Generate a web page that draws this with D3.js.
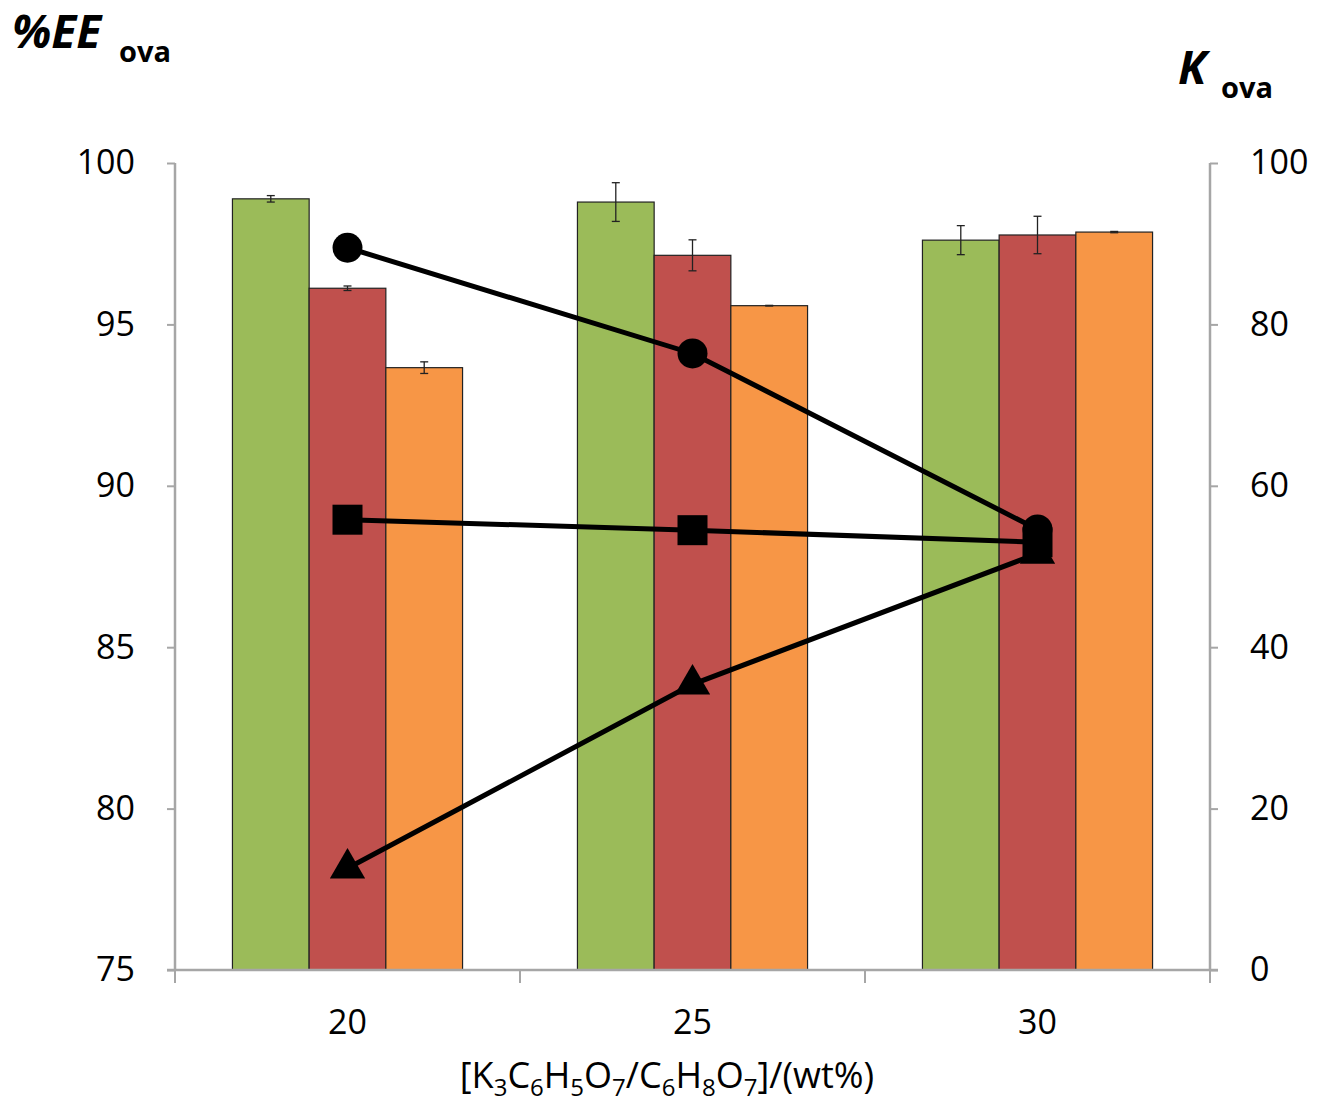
<!DOCTYPE html>
<html><head><meta charset="utf-8">
<script src="https://cdn.jsdelivr.net/npm/d3@7"></script>
<style>body{margin:0;background:#fff}svg{font-family:"Open Sans",Lato,sans-serif}</style>
</head><body>
<script>
const categories = ["20","25","30"];
const barSeries = ["s1","s2","s3"];
const barColors = ["#9bbb59","#c0504d","#f79646"];
const barValues = [
  [98.89, 98.79, 97.61],
  [96.12, 97.14, 97.77],
  [93.66, 95.58, 97.86]
];
const barErrors = [
  [0.10, 0.60, 0.45],
  [0.07, 0.48, 0.58],
  [0.18, 0.01, 0.02]
];
const circleK = [89.5, 76.4, 54.6];
const squareK = [55.8, 54.5, 53.0];
const triangleK = [12.6, 35.4, 51.6];
const leftTicks = [75,80,85,90,95,100];
const rightTicks = [0,20,40,60,80,100];

const W=1318,H=1103;
const svg=d3.select("body").append("svg").attr("width",W).attr("height",H);
const x0=175,x1=1210,yTop=163,yBot=970;
const x=d3.scaleBand().domain(categories).range([x0,x1]).paddingInner(0).paddingOuter(0);
const yL=d3.scaleLinear().domain([75,100]).range([yBot,yTop]);
const yR=d3.scaleLinear().domain([0,100]).range([yBot,yTop]);
const groupW=x.bandwidth()*0.667;
const xs=d3.scaleBand().domain(barSeries).range([0,groupW]);

// bars
barSeries.forEach((s,si)=>{
  const g=svg.append("g");
  categories.forEach((c,ci)=>{
    const bx=x(c)+(x.bandwidth()-groupW)/2+xs(s);
    const v=barValues[si][ci];
    g.append("rect").attr("x",bx).attr("y",yL(v)).attr("width",xs.bandwidth()).attr("height",yBot-yL(v))
      .attr("fill",barColors[si]).attr("stroke","#222").attr("stroke-width",1.2);
    const cx=bx+xs.bandwidth()/2, e=barErrors[si][ci];
    const eb=g.append("g").attr("stroke","#222").attr("stroke-width",1.3);
    eb.append("line").attr("x1",cx).attr("x2",cx).attr("y1",yL(v+e)).attr("y2",yL(v-e));
    eb.append("line").attr("x1",cx-4).attr("x2",cx+4).attr("y1",yL(v+e)).attr("y2",yL(v+e));
    eb.append("line").attr("x1",cx-4).attr("x2",cx+4).attr("y1",yL(v-e)).attr("y2",yL(v-e));
  });
});

// axes
const axisColor="#a6a6a6";
const axL=svg.append("g").attr("transform",`translate(${x0},0)`).call(d3.axisLeft(yL).tickValues(leftTicks).tickSize(8).tickPadding(32));
const axR=svg.append("g").attr("transform",`translate(${x1},0)`).call(d3.axisRight(yR).tickValues(rightTicks).tickSize(8).tickPadding(32));
const axB=svg.append("g").attr("transform",`translate(0,${yBot})`).call(d3.axisBottom(x).tickSize(0).tickPadding(38));
// bottom boundary ticks
const bounds=[x0, ...categories.map(c=>x(c)+x.bandwidth())];
axB.selectAll(".bt").data(bounds).enter().append("line").attr("x1",d=>d).attr("x2",d=>d).attr("y1",0).attr("y2",13).attr("stroke",axisColor).attr("stroke-width",2);
[axL,axR,axB].forEach(a=>{
  a.select(".domain").attr("stroke",axisColor).attr("stroke-width",2.5);
  a.selectAll(".tick line").attr("stroke",axisColor).attr("stroke-width",2);
  a.selectAll("text").attr("font-size",34).attr("fill","#000").attr("font-family","'Open Sans',sans-serif");
});
axL.selectAll(".tick line").attr("x1",-8).attr("x2",0);
axR.selectAll(".tick line").attr("x1",0).attr("x2",8);
axL.selectAll("text").attr("x",-40);
axR.selectAll("text").attr("x",40);
axB.selectAll("text").attr("y",40);
axB.select(".domain").attr("d",`M${x0-8},0H${x1+8}`);
axL.select(".domain").attr("d",`M0,${yTop}V${yBot}`);
axR.select(".domain").attr("d",`M0,${yTop}V${yBot}`);

// lines
const line=d3.line().x((d,i)=>x(categories[i])+x.bandwidth()/2).y(d=>yR(d));
[circleK,squareK,triangleK].forEach(arr=>{
  svg.append("path").datum(arr).attr("d",line).attr("fill","none").attr("stroke","#000").attr("stroke-width",5);
});
const cxs=i=>x(categories[i])+x.bandwidth()/2;
svg.append("g").selectAll("circle").data(circleK).enter().append("circle").attr("cx",(d,i)=>cxs(i)).attr("cy",d=>yR(d)).attr("r",15).attr("fill","#000");
svg.append("g").selectAll("rect").data(squareK).enter().append("rect").attr("x",(d,i)=>cxs(i)-15).attr("y",d=>yR(d)-15).attr("width",30).attr("height",30).attr("fill","#000");
svg.append("g").selectAll("path").data(triangleK).enter().append("path")
  .attr("d",d3.symbol().type(d3.symbolTriangle).size(540))
  .attr("transform",(d,i)=>`translate(${cxs(i)},${yR(d)})`).attr("fill","#000");

// titles
const tL=svg.append("text").attr("x",12).attr("y",48).attr("font-family","'Open Sans',sans-serif");
tL.append("tspan").text("%EE").attr("font-size",46).attr("font-weight","bold").attr("font-style","italic");
tL.append("tspan").text("ova").attr("font-size",29).attr("font-weight","bold").attr("x",119).attr("dy",14);
const tR=svg.append("text").attr("x",1178).attr("y",84).attr("font-family","'Open Sans',sans-serif");
tR.append("tspan").text("K").attr("font-size",46).attr("font-weight","bold").attr("font-style","italic");
tR.append("tspan").text("ova").attr("font-size",29).attr("font-weight","bold").attr("x",1221).attr("dy",14);

// x title
const xt=svg.append("text").attr("x",667).attr("y",1088).attr("text-anchor","middle").attr("font-size",36).attr("font-family","'Open Sans',sans-serif");
const parts=[["[K",0],["3",1],["C",0],["6",1],["H",0],["5",1],["O",0],["7",1],["/C",0],["6",1],["H",0],["8",1],["O",0],["7",1],["]/(wt%)",0]];
let prevSub=false;
parts.forEach(([t,sub])=>{
  const sp=xt.append("tspan").text(t);
  if(sub){sp.attr("font-size",24).attr("dy",prevSub?0:8);}
  else if(prevSub){sp.attr("dy",-8);}
  prevSub=!!sub;
});
</script>
</body></html>
